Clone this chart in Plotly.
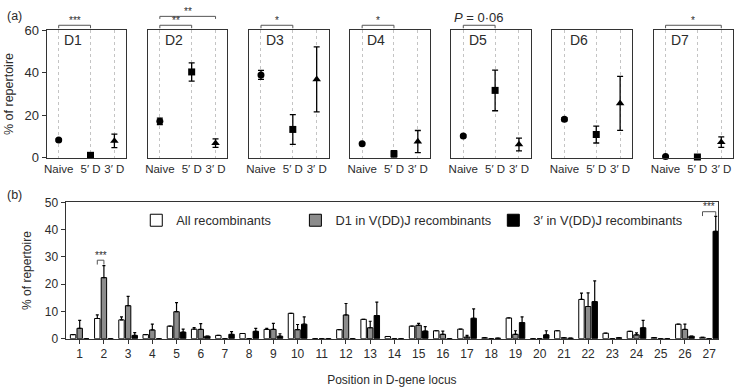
import plotly.graph_objects as go

# ---------------- data: panel (a) ----------------
panels = ["D1", "D2", "D3", "D4", "D5", "D6", "D7"]
groups = ["Naive", "5′ D", "3′ D"]
group_pos = [0, 1, 1.75]
naive_val = [8.3, 17.1, 39.0, 6.5, 10.2, 18.1, 0.5]
naive_err = [0.5, 1.5, 2.1, 0.4, 0.5, 0.7, 0.3]
d5_val = [1.1, 40.4, 13.3, 1.8, 31.7, 10.9, 0.3]
d5_err = [0.6, 4.3, 7.0, 1.5, 9.6, 4.0, 0.3]
d3_val = [7.9, 6.8, 36.9, 7.6, 6.2, 25.6, 7.3]
d3_err = [3.2, 2.0, 15.3, 5.2, 3.0, 12.7, 2.5]
# significance: (panel index, group a, group b, level, label)
sig_a = [
    (0, 0, 1, 0, "***"),
    (1, 0, 1, 0, "**"),
    (1, 0, 2, 1, "**"),
    (2, 0, 1, 0, "*"),
    (3, 0, 1, 0, "*"),
    (4, 0, 1, 0, "<i>P</i> = 0·06"),
    (6, 0, 2, 0, "*"),
]

# ---------------- data: panel (b) ----------------
positions = list(range(1, 28))
series_names = ["All recombinants", "D1 in V(DD)J recombinants", "3′ in V(DD)J recombinants"]
all_val = [1.5, 7.4, 6.9, 1.5, 4.6, 3.5, 1.2, 1.9, 3.4, 9.3, 0, 3.3, 7.1, 0.8, 4.6, 2.9, 3.5, 0.35, 7.6, 0, 2.9, 14.4, 2.0, 2.7, 0.4, 5.3, 0.5]
all_err = [0, 1.3, 1.1, 0, 0, 0.6, 0, 0, 0.4, 0, 0, 0, 0, 0, 0, 0, 0, 0, 0, 0, 0, 2.3, 0, 0, 0, 0, 0]
d1_val = [3.8, 22.4, 12.1, 3.2, 9.9, 3.4, 0, 0, 3.4, 3.3, 0, 8.7, 4.0, 0, 4.9, 1.6, 0.6, 0, 1.6, 0, 0.35, 11.8, 0, 1.4, 0, 3.4, 0]
d1_err = [2.9, 4.4, 3.4, 2.1, 3.3, 2.1, 0, 0, 2.2, 1.9, 0, 4.2, 2.4, 0, 0.7, 1.2, 0.6, 0, 1.3, 0, 0, 5.0, 0, 0.7, 0, 1.9, 0]
p3_val = [0, 0, 1.2, 0, 2.4, 0.9, 1.6, 2.7, 0.9, 5.3, 0, 0, 8.5, 0, 2.8, 0, 7.5, 0.2, 5.9, 1.4, 0.2, 13.6, 0.35, 4.0, 0, 0.9, 39.4]
p3_err = [0, 0, 1.0, 0, 1.1, 0, 1.0, 1.1, 0.9, 2.7, 0, 0, 4.9, 0, 1.6, 0, 3.4, 0, 2.1, 1.5, 0, 7.6, 0, 2.7, 0, 0, 5.5]
# significance in (b): (position, series a, series b, label)
sig_b = [(2, 0, 1, "***"), (27, 0, 2, "***")]

# ---------------- styling ----------------
W, H = 735, 388
FONT = "Liberation Sans, Arial, sans-serif"
TXT = "#2b2b2b"
LINE = "#333333"

top_y0, top_y1 = 1 - 156.7 / H, 1 - 24.3 / H
top_left0, top_step, top_w = 44, 101.7, 80
xr_top = [-0.375, 2.125]
yr_top = [0, 60]

bot_xr = [0.42, 27.37]
bot_yr = [0, 50]

fig = go.Figure()
symbols = ["circle", "square", "triangle-up"]
vals = [naive_val, d5_val, d3_val]
errs = [naive_err, d5_err, d3_err]

layout = dict(
    width=W, height=H, margin=dict(l=0, r=0, t=0, b=0),
    paper_bgcolor="white", plot_bgcolor="white",
    font=dict(family=FONT, color=TXT, size=12),
    showlegend=True,
)

shapes, annos = [], []


def fx(v, r):
    return (v - r[0]) / (r[1] - r[0])


for k, name in enumerate(panels):
    sfx = "" if k == 0 else str(k + 1)
    for g in range(3):
        fig.add_trace(go.Scatter(
            x=[group_pos[g]], y=[vals[g][k]], mode="markers",
            marker=dict(symbol=symbols[g], size=7 if g != 2 else 7.5, color="black"),
            error_y=dict(type="data", array=[errs[g][k]], color="black", thickness=1.3, width=3),
            xaxis="x" + sfx, yaxis="y" + sfx, showlegend=False, cliponaxis=False,
        ))
    x0 = (top_left0 + k * top_step) / W
    x1 = (top_left0 + k * top_step + top_w) / W
    layout["xaxis" + sfx] = dict(
        domain=[x0, x1], range=xr_top, anchor="y" + sfx,
        tickvals=group_pos, ticktext=groups, ticks="", tickangle=0,
        showgrid=True, gridcolor="#c4c4c4", griddash="dot", gridwidth=0.9,
        showline=True, mirror=True, linecolor=LINE, linewidth=1.3,
        zeroline=False, tickfont=dict(size=11.5, color=TXT), fixedrange=True,
    )
    ya = dict(
        domain=[top_y0, top_y1], range=yr_top, anchor="x" + sfx,
        showgrid=False, zeroline=False,
        showline=True, mirror=True, linecolor=LINE, linewidth=1.3,
    )
    if k == 0:
        ya.update(tickvals=[0, 20, 40, 60], ticks="outside", ticklen=4, tickcolor=LINE,
                  tickfont=dict(size=13, color=TXT),
                  title=dict(text="% of repertoire", font=dict(size=12.5, color=TXT), standoff=8))
    else:
        ya.update(showticklabels=False, ticks="")
    layout["yaxis" + sfx] = ya
    annos.append(dict(x=fx(0.45, xr_top), y=fx(55.5, yr_top), xref="x" + sfx + " domain",
                      yref="y" + sfx + " domain", text=name,
                      showarrow=False, font=dict(size=14, color=TXT), xanchor="center", yanchor="middle"))

levels = [(62.4, 61.0, 64.6), (66.6, 65.4, 68.8)]
for (k, a, b, lev, label) in sig_a:
    sfx = "" if k == 0 else str(k + 1)
    yb, yf, yt = levels[lev]
    xa_, xb_ = fx(group_pos[a], xr_top), fx(group_pos[b], xr_top)
    ybf, yff = fx(yb, yr_top), fx(yf, yr_top)
    shapes.append(dict(type="path", xref="x" + sfx + " domain", yref="y" + sfx + " domain",
                       path=f"M{xa_},{yff} L{xa_},{ybf} L{xb_},{ybf} L{xb_},{yff}",
                       line=dict(color="#555", width=1)))
    is_p = label.startswith("<i>")
    annos.append(dict(x=(xa_ + xb_) / 2, y=fx(yt + 1.6 if is_p else yt, yr_top),
                      xref="x" + sfx + " domain", yref="y" + sfx + " domain", text=label, showarrow=False,
                      font=dict(size=13 if is_p else 10, color=TXT),
                      xanchor="center", yanchor="middle"))

# ---------------- panel (b) bars ----------------
def nz(lst):
    return [e if e > 0 else None for e in lst]


bar_colors = ["white", "#8c8c8c", "black"]
bar_vals = [all_val, d1_val, p3_val]
bar_errs = [all_err, d1_err, p3_err]
legend_ids = ["legend", "legend2", "legend3"]
legend_x = [134, 294, 493]
for s in range(3):
    fig.add_trace(go.Bar(
        x=positions, y=bar_vals[s], name=series_names[s],
        marker=dict(color=bar_colors[s], line=dict(color="black", width=1)),
        error_y=dict(type="data", symmetric=False, array=nz(bar_errs[s]),
                     arrayminus=[0] * len(positions), color="black", thickness=1.2, width=1.5),
        xaxis="x8", yaxis="y8", legend=legend_ids[s],
    ))
    layout[legend_ids[s]] = dict(orientation="h", x=legend_x[s] / W, y=1 - 222 / H,
                                 xanchor="left", yanchor="middle",
                                 bgcolor="rgba(0,0,0,0)", borderwidth=0,
                                 font=dict(size=12.8, color=TXT))

layout["xaxis8"] = dict(
    domain=[63 / W, 719 / W], range=bot_xr, anchor="y8",
    tickvals=positions, ticks="outside", ticklen=4, tickcolor=LINE, tickangle=0,
    showline=True, mirror=True, linecolor=LINE, linewidth=1.3,
    showgrid=False, zeroline=False, tickfont=dict(size=12, color=TXT),
    title=dict(text="Position in D-gene locus", font=dict(size=12, color=TXT), standoff=15),
)
layout["yaxis8"] = dict(
    domain=[1 - 345 / H, 1 - 203.3 / H], range=bot_yr, anchor="x8",
    tickvals=[0, 10, 20, 30, 40, 50], ticks="outside", ticklen=4, tickcolor=LINE,
    showline=True, mirror=True, linecolor=LINE, linewidth=1.3,
    showgrid=False, zeroline=False, tickfont=dict(size=12, color=TXT),
    title=dict(text="% of repertoire", font=dict(size=12, color=TXT), standoff=10),
)
layout["barmode"] = "group"
layout["bargap"] = 0.18
layout["bargroupgap"] = 0.18

slot = (1 - layout["bargap"]) / 3
for (p, a, b, label) in sig_b:
    xa_ = p + (a - 1) * slot
    xb_ = p + (b - 1) * slot
    top = max(bar_vals[a][p - 1] + bar_errs[a][p - 1], bar_vals[b][p - 1] + bar_errs[b][p - 1])
    yb = min(top + 2.0, 46.6)
    yf = yb - 1.6
    shapes.append(dict(type="path", xref="x8 domain", yref="y8 domain",
                       path=f"M{fx(xa_, bot_xr)},{fx(yf, bot_yr)} L{fx(xa_, bot_xr)},{fx(yb, bot_yr)} "
                            f"L{fx(xb_, bot_xr)},{fx(yb, bot_yr)} L{fx(xb_, bot_xr)},{fx(yf, bot_yr)}",
                       line=dict(color="#555", width=1)))
    annos.append(dict(x=fx((xa_ + xb_) / 2, bot_xr), y=fx(yb + 1.8, bot_yr), xref="x8 domain",
                      yref="y8 domain", text=label,
                      showarrow=False, font=dict(size=10, color=TXT), xanchor="center", yanchor="middle"))

annos.append(dict(x=2 / W, y=1 - 9 / H, xref="paper", yref="paper", text="(a)", showarrow=False,
                  xanchor="left", yanchor="middle", font=dict(size=12.5, color=TXT)))
annos.append(dict(x=2 / W, y=1 - 196 / H, xref="paper", yref="paper", text="(b)", showarrow=False,
                  xanchor="left", yanchor="middle", font=dict(size=12.5, color=TXT)))

layout["shapes"] = shapes
layout["annotations"] = annos
fig.update_layout(**layout)

fig.write_html(
    "out.html",
    config={"displayModeBar": False},
    post_script="document.body.style.margin='0px';document.body.style.overflow='hidden';",
)
